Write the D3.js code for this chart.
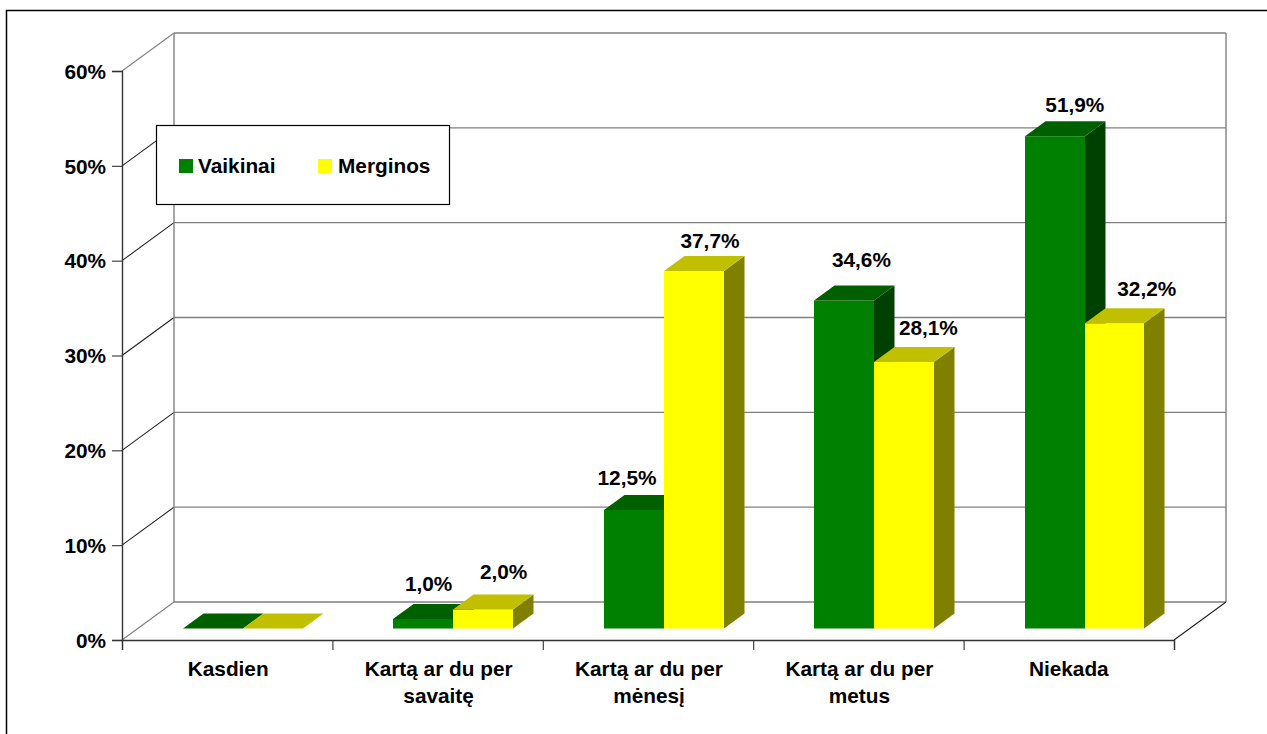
<!DOCTYPE html>
<html><head><meta charset="utf-8">
<script src="https://cdn.jsdelivr.net/npm/d3@7/dist/d3.min.js"></script>
<style>html,body{margin:0;padding:0;background:#fff;overflow:hidden}svg{display:block}text{font-family:"Liberation Sans",Arial,sans-serif;font-weight:bold;fill:#000}</style>
</head><body><svg id="c" width="1267" height="734"></svg>
<script>
const categories = [["Kasdien"],["Kartą ar du per","savaitę"],["Kartą ar du per","mėnesį"],["Kartą ar du per","metus"],["Niekada"]];
const seriesNames = ["Vaikinai","Merginos"];
const vaikinai = [0,1.0,12.5,34.6,51.9];
const merginos = [0,2.0,37.7,28.1,32.2];
const yTicks = [0,10,20,30,40,50,60];
const labelV = [null,"1,0%","12,5%","34,6%","51,9%"];
const labelM = [null,"2,0%","37,7%","28,1%","32,2%"];

const W=1267,H=734,FS=20.8;
const svg=d3.select("#c");
const fl={x0:122,x1:1174,y0:640,y1:71}, wall={dx:52,dy:-38}, inset={dx:16,dy:-11.5}, depth={dx:20.5,dy:-15};
const colors=[{front:"#008000",top:"#006000",side:"#004000"},{front:"#ffff00",top:"#c0c000",side:"#808000"}];
const y=d3.scaleLinear().domain([0,60]).range([fl.y0,fl.y1]);
const xEdge=d3.scaleLinear().domain([0,categories.length]).range([fl.x0,fl.x1]);
const x=d3.scaleBand().domain(d3.range(categories.length)).range([fl.x0,fl.x1]).paddingInner(0.43).paddingOuter(0.215);
const xs=d3.scaleBand().domain([0,1]).range([0,x.bandwidth()]);

// frame
svg.append("rect").attr("x",6.5).attr("y",10.5).attr("width",W+20).attr("height",H+20).attr("fill","#fff").attr("stroke","#000").attr("stroke-width",1.5);

// walls
const G="#808080";
const g=svg.append("g").attr("fill","none");
yTicks.forEach(t=>{
  g.append("line").attr("x1",fl.x0+wall.dx).attr("x2",fl.x1+wall.dx).attr("y1",y(t)+wall.dy).attr("y2",y(t)+wall.dy).attr("stroke",G).attr("stroke-width",1.4);
  g.append("line").attr("x1",fl.x0).attr("x2",fl.x0+wall.dx).attr("y1",y(t)).attr("y2",y(t)+wall.dy).attr("stroke",(t==0||t==60)?G:"#222").attr("stroke-width",1.1);
});
[fl.x0+wall.dx,fl.x1+wall.dx].forEach(v=>g.append("line").attr("x1",v).attr("x2",v).attr("y1",y(0)+wall.dy).attr("y2",y(60)+wall.dy).attr("stroke",G).attr("stroke-width",1.4));
g.append("line").attr("x1",fl.x1).attr("x2",fl.x1+wall.dx).attr("y1",y(0)).attr("y2",y(0)+wall.dy).attr("stroke","#222").attr("stroke-width",1.1);

// bars
function poly(pts,fill){svg.append("polygon").attr("points",pts.map(p=>p.join(",")).join(" ")).attr("fill",fill);}
categories.forEach((c,i)=>{
  [vaikinai,merginos].forEach((arr,s)=>{
    const l=Math.round(x(i)+xs(s)+inset.dx-0.3), r=Math.round(x(i)+xs(s)+inset.dx+xs.bandwidth()-0.3), b=y(0)+inset.dy, t=y(arr[i])+inset.dy, C=colors[s];
    if(arr[i]>0){
      poly([[r,b],[r+depth.dx,b+depth.dy],[r+depth.dx,t+depth.dy],[r,t]],C.side);
      poly([[l,b],[r,b],[r,t],[l,t]],C.front);
    }
    poly([[l,t],[r,t],[r+depth.dx,t+depth.dy],[l+depth.dx,t+depth.dy]],C.top);
  });
});

// axes
const axL=svg.append("g").attr("transform",`translate(${fl.x0},0)`).call(d3.axisLeft(y).tickValues(yTicks).tickSize(10).tickPadding(6).tickFormat(d=>d+"%"));
const axB=svg.append("g").attr("transform",`translate(0,${fl.y0})`).call(d3.axisBottom(xEdge).tickValues(d3.range(categories.length+1)).tickSize(10).tickFormat(""));
[axL,axB].forEach(a=>{a.selectAll("path").attr("stroke","#333").attr("stroke-width",1.4);a.selectAll("line").attr("stroke","#333").attr("stroke-width",1.1);});
axL.selectAll("text").attr("font-size",FS).attr("font-family",null).attr("dy","0.35em").style("fill","#000");

// category labels
categories.forEach((c,i)=>{c.forEach((ln,k)=>{
  svg.append("text").attr("x",xEdge(i+.5)+(i==4?0:1)).attr("y",676+k*27).attr("text-anchor","middle").attr("font-size",FS).text(ln);
});});

// data labels (nudges relative to bar top)
const nudgeV=[null,[5,-13],[-7,-10],[17,-18],[20,-9.5]];
const nudgeM=[null,[20,-15.5],[16,-8],[24,-12.5],[32,-12]];
[[vaikinai,labelV,nudgeV],[merginos,labelM,nudgeM]].forEach(([arr,lab,n],s)=>{
  arr.forEach((v,i)=>{ if(!lab[i])return;
    const cx=x(i)+xs(s)+inset.dx+xs.bandwidth()/2, top=y(v)+inset.dy+depth.dy;
    svg.append("text").attr("x",cx+n[i][0]).attr("y",top+n[i][1]).attr("text-anchor","middle").attr("font-size",FS).text(lab[i]);
  });
});

// legend
const lg=svg.append("g");
lg.append("rect").attr("x",156.5).attr("y",125.5).attr("width",293).attr("height",79).attr("fill","#fff").attr("stroke","#000").attr("stroke-width",1.2);
[[179,198],[318,338]].forEach((p,i)=>{
  lg.append("rect").attr("x",p[0]).attr("y",159).attr("width",14).attr("height",14).attr("fill",colors[i].front);
  lg.append("text").attr("x",p[1]).attr("y",173).attr("font-size",FS).text(seriesNames[i]);
});
</script></body></html>
